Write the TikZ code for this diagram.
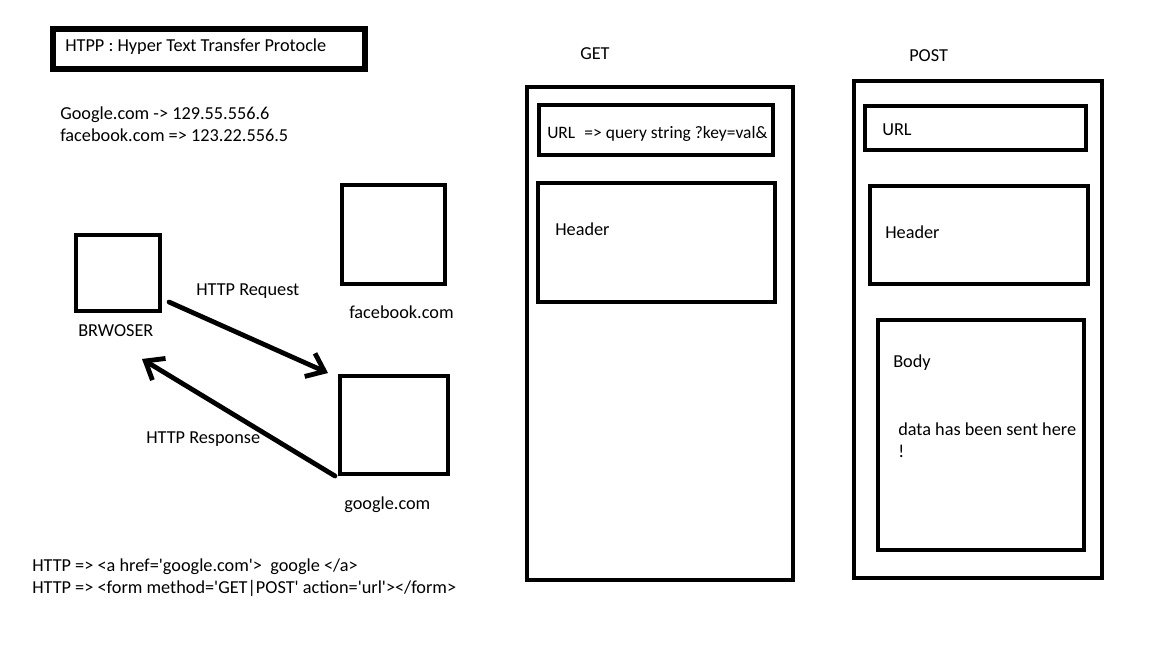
\documentclass[tikz,border=0pt]{standalone}
\usepackage{fontspec}
\setmainfont{Carlito}
\usepackage{tikz}
\usetikzlibrary{arrows.meta,calc}
\newcommand{\sq}{\textquotesingle}
\tikzset{
  box/.style={rectangle,draw=black,line width=3pt,inner sep=0pt},
  sz/.style 2 args={minimum width=#1*0.75pt,minimum height=#2*0.75pt},
  lbl/.style={anchor=base west,inner sep=0pt,align=left,font=\fontsize{13.7}{16.5}\selectfont},
  fl/.style={-{Straight Barb[length=12pt,width=19pt]},line width=3.6pt,line cap=round},
}
\begin{document}
\begin{tikzpicture}[x=0.75pt,y=-0.75pt]
  \useasboundingbox (0,0) rectangle (1152,648);
  % title and the name table
  \node[box,line width=4.5pt,sz={312}{40}] (title) at (209,49) {};
  \node[lbl] (titletxt) at (65,52) {HTPP : Hyper Text Transfer Protocle};
  \node[lbl] (dns) at (60,142) {Google.com -> 129.55.556.6\\facebook.com => 123.22.556.5};
  % browser and the two servers
  \node[box,sz={84}{76}] (browser) at (118,273) {};
  \node[box,sz={103}{99}] (fb) at (393.5,234.5) {};
  \node[box,sz={108}{98}] (google) at (394,425) {};
  \node[lbl] (browsertxt) at (78,337) {BRWOSER};
  \node[lbl] (fbtxt) at (349,319) {facebook.com};
  \node[lbl] (googletxt) at (344,509) {google.com};
  \node[lbl] (reqtxt) at (196,296) {HTTP Request};
  \node[lbl] (restxt) at (146,443) {HTTP Response};
  \draw[fl] ([shift={(7,-11)}]browser.south east) -- ([shift={(-10,-1)}]google.north west);
  \draw[fl] ([shift={(-3,0)}]google.south west) -- ([shift={(24,46)}]browser.south);
  % html snippets
  \node[lbl] (html) at (32,593) {HTTP => <a href=\sq google.com\sq >\ \ google </a>\\HTTP => <form method=\sq GET|POST\sq\ action=\sq url\sq ></form>};
  % GET request
  \node[lbl] (gettxt) at (580,60) {GET};
  \node[box,sz={266}{493}] (get) at (660,333.5) {};
  \node[box,sz={234}{50}] (geturl) at (656,130) {};
  \node[box,sz={237}{119}] (gethead) at (656.5,242.5) {};
  \node[lbl,font=\fontsize{13.1}{16}\selectfont] (geturltxt) at (547,139) {URL\hspace{0.3em} => query string ?key=val\&};
  \node[lbl] (getheadtxt) at (555,236) {Header};
  % POST request
  \node[lbl] (posttxt) at (909,62) {POST};
  \node[box,sz={248}{497}] (post) at (978,329.5) {};
  \node[box,sz={221}{44}] (posturl) at (975.5,128) {};
  \node[box,sz={218}{98}] (posthead) at (979,235) {};
  \node[box,sz={206}{230}] (postbody) at (981,435) {};
  \node[lbl] (posturltxt) at (882,136) {URL};
  \node[lbl] (postheadtxt) at (885,239) {Header};
  \node[lbl] (postbodytxt) at (893,368) {Body};
  \node[lbl] (datatxt) at (898,457) {data has been sent here\\!};
\end{tikzpicture}
\end{document}
